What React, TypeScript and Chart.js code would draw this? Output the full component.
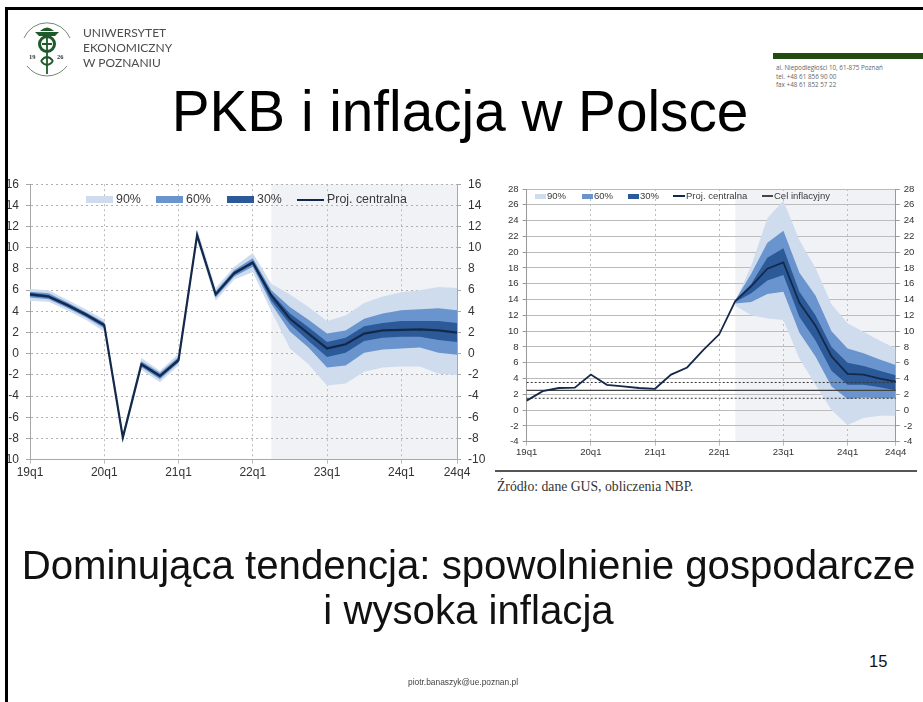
import React, { useEffect, useRef } from "react";
import Chart from "chart.js/auto";

const quarters = [
  "19q1","19q2","19q3","19q4","20q1","20q2","20q3","20q4","21q1","21q2","21q3","21q4",
  "22q1","22q2","22q3","22q4","23q1","23q2","23q3","23q4","24q1","24q2","24q3","24q4",
];
const shownLabels = ["19q1","20q1","21q1","22q1","23q1","24q1","24q4"];
const forecastStart = "22q2";

const gdpCentral = [5.6,5.4,4.6,3.7,2.7,-7.9,-1.0,-2.1,-0.6,11.2,5.6,7.6,8.6,5.5,3.3,1.9,0.5,0.9,1.9,2.2,2.25,2.3,2.2,2.0];
const gdp30Up = [5.75,5.55,4.75,3.85,2.85,-7.75,-0.85,-1.95,-0.45,11.35,5.75,7.75,8.75,5.7,3.8,2.5,1.1,1.5,2.6,2.9,3.1,3.1,3.1,2.9];
const gdp30Lo = [5.45,5.25,4.45,3.55,2.55,-8.05,-1.15,-2.25,-0.75,11.05,5.45,7.45,8.45,5.0,2.8,1.2,-0.3,0.1,1.2,1.5,1.6,1.6,1.3,1.1];
const gdp60Up = [5.85,5.7,4.85,3.95,2.95,-7.65,-0.7,-1.8,-0.3,11.5,5.9,7.9,9.0,6.0,4.4,3.2,1.9,2.2,3.3,3.8,4.1,4.2,4.3,4.1];
const gdp60Lo = [5.3,5.15,4.35,3.45,2.4,-8.15,-1.25,-2.4,-0.85,10.95,5.3,7.3,8.2,4.7,2.1,0.6,-1.3,-1.1,0.1,0.4,0.5,0.6,0.1,-0.1];
const gdp90Up = [6.1,6.0,5.1,4.2,3.2,-7.5,-0.4,-1.6,0.0,11.8,6.2,8.2,9.5,6.6,5.6,4.4,3.1,3.6,4.8,5.4,5.8,6.0,6.3,6.2];
const gdp90Lo = [5.0,4.9,4.1,3.2,2.1,-8.4,-1.5,-2.7,-1.1,10.7,5.0,7.0,7.7,4.0,0.5,-1.0,-3.0,-2.8,-1.7,-1.3,-1.2,-1.2,-1.9,-2.0];

const n = null;
const cpiCentral = [1.2,2.4,2.8,2.85,4.5,3.2,3.0,2.8,2.7,4.5,5.4,7.6,9.6,13.8,15.7,17.9,18.7,13.6,10.7,6.8,4.6,4.5,4.0,3.6];
const cpi30Up = [n,n,n,n,n,n,n,n,n,n,n,n,n,13.9,16,19.3,20.5,15,12,8,6,5.6,5,4.4];
const cpi30Lo = [n,n,n,n,n,n,n,n,n,n,n,n,n,13.7,14.8,16.4,17.1,11.8,8.8,5,3.2,3.2,2.9,2.5];
const cpi60Up = [n,n,n,n,n,n,n,n,n,n,n,n,n,13.9,17.3,21.2,22.7,17.4,14.5,10,7.8,7.2,6.4,5.7];
const cpi60Lo = [n,n,n,n,n,n,n,n,n,n,n,n,n,13.5,13.7,14.7,15,9.8,6.8,3,1.4,1.6,1.5,1.5];
const cpi90Up = [n,n,n,n,n,n,n,n,n,n,n,n,n,13.8,18.3,24.3,26.5,21.5,18,13.4,11,9.9,8.8,7.8];
const cpi90Lo = [n,n,n,n,n,n,n,n,n,n,n,n,n,13.2,12,11.6,11.4,6.5,3.2,0,-1.9,-1,-0.7,-0.7];
const target = [2.5,2.5,2.5,2.5,2.5,2.5,2.5,2.5,2.5,2.5,2.5,2.5,2.5,2.5,2.5,2.5,2.5,2.5,2.5,2.5,2.5,2.5,2.5,2.5];
const targetUp = [3.5,3.5,3.5,3.5,3.5,3.5,3.5,3.5,3.5,3.5,3.5,3.5,3.5,3.5,3.5,3.5,3.5,3.5,3.5,3.5,3.5,3.5,3.5,3.5];
const targetLo = [1.5,1.5,1.5,1.5,1.5,1.5,1.5,1.5,1.5,1.5,1.5,1.5,1.5,1.5,1.5,1.5,1.5,1.5,1.5,1.5,1.5,1.5,1.5,1.5];

const C90 = "#cfdcee";
const C60 = "#6a94cd";
const C30 = "#2c5a98";
const CLINE = "#14294a";
const SHADE = "#f0f2f6";
const FONT = "'Liberation Sans', Arial, sans-serif";

const band = (label: string, data: any[], color: string, fillIt: boolean) => ({
  label, data, borderWidth: 0, borderColor: color, backgroundColor: color,
  pointRadius: 0, tension: 0, fill: fillIt ? { target: "+1" } : false,
});

const shadePlugin = {
  id: "forecastShade",
  beforeDraw(chart: any) {
    const { ctx, chartArea, scales } = chart;
    const x0 = scales.x.getPixelForValue(quarters.indexOf(forecastStart));
    ctx.save();
    ctx.fillStyle = SHADE;
    ctx.fillRect(x0, chartArea.top, chartArea.right - x0, chartArea.bottom - chartArea.top);
    ctx.restore();
  },
};

function makeOptions(o: any) {
  const yTick = (pos: string, w: number) => ({
    position: pos, min: o.min, max: o.max,
    afterFit: (a: any) => { a.width = w; },
    ticks: { stepSize: 2, autoSkip: false, color: o.tickColor, padding: o.tickPad, font: { family: FONT, size: o.font } },
    border: { color: o.axisColor, width: 1 },
  });
  return {
    responsive: false,
    animation: false,
    layout: { autoPadding: false, padding: { top: o.padTop, right: 0, bottom: 0, left: 0 } },
    plugins: { legend: { display: false }, tooltip: { enabled: false }, title: { display: false } },
    scales: {
      x: {
        type: "category",
        afterFit: (a: any) => { a.height = o.xh; },
        afterBuildTicks: (a: any) => { a.ticks = a.ticks.filter((t: any) => shownLabels.includes(quarters[t.value])); },
        ticks: { autoSkip: false, maxRotation: 0, color: o.tickColor, padding: o.xPad, font: { family: FONT, size: o.font } },
        grid: { color: "#bcbcbc", lineWidth: 1, tickLength: 4 },
        border: { color: o.axisColor, width: 1, dash: [2, 3] },
      },
      y: {
        ...yTick("left", o.lw),
        grid: { color: o.gridColor, lineWidth: 1, tickLength: 4, tickColor: o.axisColor },
        border: { color: o.axisColor, width: 1, dash: o.gridDash },
      },
      yr: {
        ...yTick("right", o.rw),
        grid: { drawOnChartArea: false, tickLength: 4, color: o.axisColor },
      },
    },
  };
}

function Legend({ items, top, font, boxW, boxH, gap }: any) {
  return (
    <>
      {items.map((it: any) => (
        <div key={it.label} style={{ position: "absolute", left: it.x, top, height: 0 }}>
          <div style={{ position: "absolute", left: 0, top: it.line ? -1 : -boxH / 2, width: it.w ?? boxW, height: it.line ? 2 : boxH, background: it.color }} />
          <div style={{ position: "absolute", left: (it.w ?? boxW) + gap, top: -font * 0.6, fontFamily: FONT, fontSize: font, lineHeight: `${font * 1.2}px`, color: "#3a3a3a", whiteSpace: "nowrap" }}>{it.label}</div>
        </div>
      ))}
    </>
  );
}

function useChart(ref: any, datasets: any[], opts: any) {
  useEffect(() => {
    const chart = new Chart(ref.current, {
      type: "line",
      data: { labels: quarters, datasets },
      options: makeOptions(opts),
      plugins: [shadePlugin],
    } as any);
    return () => chart.destroy();
  }, []);
}

const abs = (x: number, y: number, extra: any = {}) => ({ position: "absolute", left: x, top: y, ...extra } as any);

export default function App() {
  const gdpRef = useRef<HTMLCanvasElement>(null);
  const cpiRef = useRef<HTMLCanvasElement>(null);

  useChart(gdpRef, [
    { label: "Proj. centralna", data: gdpCentral, borderColor: CLINE, borderWidth: 2.2, pointRadius: 0, tension: 0, fill: false },
    band("30%", gdp30Up, C30, true), band("30% lo", gdp30Lo, C30, false),
    band("60%", gdp60Up, C60, true), band("60% lo", gdp60Lo, C60, false),
    band("90%", gdp90Up, C90, true), band("90% lo", gdp90Lo, C90, false),
  ], {
    min: -10, max: 16, font: 12, tickColor: "#333", tickPad: 7, xPad: 2, axisColor: "#a8a8a8",
    gridColor: "#b0b0b0", gridDash: [2, 3], padTop: 13.3, xh: 20.3, lw: 23, rw: 33,
  });

  useChart(cpiRef, [
    { label: "Proj. centralna", data: cpiCentral, borderColor: CLINE, borderWidth: 1.8, pointRadius: 0, tension: 0, fill: false },
    { label: "Cel inflacyjny", data: target, borderColor: "#444", borderWidth: 1.3, pointRadius: 0, fill: false },
    { label: "Cel górny", data: targetUp, borderColor: "#333", borderWidth: 1, borderDash: [2, 2], pointRadius: 0, fill: false },
    { label: "Cel dolny", data: targetLo, borderColor: "#333", borderWidth: 1, borderDash: [2, 2], pointRadius: 0, fill: false },
    band("30%", cpi30Up, C30, true), band("30% lo", cpi30Lo, C30, false),
    band("60%", cpi60Up, C60, true), band("60% lo", cpi60Lo, C60, false),
    band("90%", cpi90Up, C90, true), band("90% lo", cpi90Lo, C90, false),
  ], {
    min: -4, max: 28, font: 9.6, tickColor: "#333", tickPad: 4, xPad: 1, axisColor: "#999",
    gridColor: "#bcbcbc", gridDash: [], padTop: 19, xh: 23.3, lw: 36.7, rw: 27.3,
  });

  return (
    <div style={{ position: "absolute", left: 0, top: 0, width: 923, height: 702, overflow: "hidden", background: "#fff" }}>
      <canvas ref={gdpRef} width={483} height={310} style={{ ...abs(7, 170), filter: "blur(0.6px)" }} />
      <canvas ref={cpiRef} width={433} height={295} style={{ ...abs(490, 170), filter: "blur(0.6px)" }} />

      <div style={{ filter: "blur(0.4px)" }}>
        <Legend font={12.4} boxW={27} boxH={7} gap={3} top={199.5} items={[
          { label: "90%", x: 86, color: C90 }, { label: "60%", x: 156, color: C60 },
          { label: "30%", x: 227, color: C30 }, { label: "Proj. centralna", x: 297, w: 27, line: true, color: CLINE },
        ]} />
        <Legend font={9.5} boxW={11} boxH={5} gap={1} top={196} items={[
          { label: "90%", x: 535, color: C90 }, { label: "60%", x: 582, color: C60 },
          { label: "30%", x: 628, color: C30 }, { label: "Proj. centralna", x: 673, w: 12, line: true, color: CLINE },
          { label: "Cel inflacyjny", x: 762, w: 11, line: true, color: "#444" },
        ]} />
      </div>

      <div style={abs(5, 7, { width: 918, height: 2.5, background: "#000" })} />
      <div style={abs(5, 7, { width: 2.5, height: 695, background: "#000" })} />

      <svg width="70" height="70" style={{ ...abs(16, 16), filter: "blur(0.4px)" }} viewBox="0 0 70 70">
        <path d="M8 22 A25 25 0 0 1 54 22" fill="none" stroke="#6f8a6f" strokeWidth="1" />
        <path d="M11 50 A25 25 0 0 0 51 50" fill="none" stroke="#6f8a6f" strokeWidth="1" />
        <path d="M19 16 h24 l-4 4 h-16 z M24 15 q7 -7 14 0 z" fill="#1f5a2a" />
        <circle cx="31" cy="28" r="7.5" fill="none" stroke="#1f5a2a" strokeWidth="3" />
        <path d="M31 19 V58 M26 28 h10 M25 45 q6 -8 12 0 M25 45 q6 8 12 0" fill="none" stroke="#1f5a2a" strokeWidth="1.8" />
        <text x="13" y="43" fontSize="6.5" fontWeight="700" fontFamily="'Liberation Serif'" fill="#333">19</text>
        <text x="41" y="43" fontSize="6.5" fontWeight="700" fontFamily="'Liberation Serif'" fill="#333">26</text>
      </svg>
      {["UNIWERSYTET", "EKONOMICZNY", "W POZNANIU"].map((t, i) => (
        <div key={t} style={abs(83, 25 + i * 15, { fontFamily: "Lato", fontSize: 12, lineHeight: "16px", color: "#4d4d4d", whiteSpace: "nowrap", filter: "blur(0.3px)" })}>{t}</div>
      ))}

      <div style={abs(773, 53, { width: 150, height: 6, background: "#1f4d14" })} />
      {["al. Niepodległości 10, 61-875 Poznań", "tel. +48 61 856 90 00", "fax +48 61 852 57 22"].map((t, i) => (
        <div key={t} style={abs(776, 64 + i * 8.5, { fontFamily: "'Open Sans'", fontSize: 6.3, lineHeight: "8px", color: "#666", whiteSpace: "nowrap" })}>{t}</div>
      ))}

      <div style={abs(0, 82, { width: 920, textAlign: "center", fontFamily: FONT, fontSize: 56.7, lineHeight: "60px", color: "#000", whiteSpace: "nowrap" })}>PKB i inflacja w Polsce</div>

      <div style={abs(495, 470, { width: 422, height: 2, background: "#555", zIndex: 5 })} />
      <div style={abs(497, 478, { fontFamily: "'Liberation Serif'", fontSize: 13.7, lineHeight: "18px", color: "#333", whiteSpace: "nowrap" })}>Źródło: dane GUS, obliczenia NBP.</div>

      <div style={abs(0, 543, { width: 937, textAlign: "center", fontFamily: FONT, fontSize: 40.2, lineHeight: "45px", color: "#111", whiteSpace: "nowrap" })}>
        Dominująca tendencja: spowolnienie gospodarcze<br />i wysoka inflacja
      </div>

      <div style={abs(869, 651, { fontFamily: FONT, fontSize: 16.5, lineHeight: "20px", color: "#111" })}>15</div>
      <div style={abs(408, 677, { fontFamily: FONT, fontSize: 8.4, lineHeight: "10px", color: "#444", whiteSpace: "nowrap", filter: "blur(0.3px)" })}>piotr.banaszyk@ue.poznan.pl</div>
    </div>
  );
}
